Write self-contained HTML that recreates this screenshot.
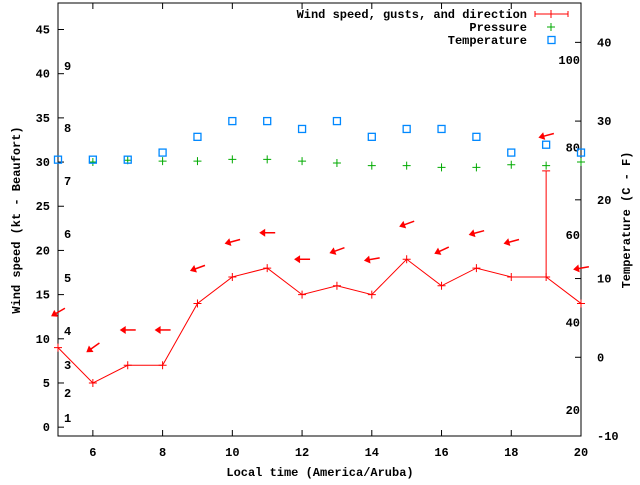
<!DOCTYPE html>
<html><head><meta charset="utf-8"><style>
body{margin:0;background:#fff}
svg text{font-family:"Liberation Mono","DejaVu Sans Mono",monospace;font-size:12px;font-weight:bold;fill:#000}
</style></head><body>
<svg id="c" width="640" height="480" xmlns="http://www.w3.org/2000/svg"></svg>
<script>
const hours=[5,6,7,8,9,10,11,12,13,14,15,16,17,18,19,20];
const wind=[9,5,7,7,14,17,18,15,16,15,19,16,18,17,17,14];
const gust=[null,null,null,null,null,null,null,null,null,null,null,null,null,null,29,null];
const dirDeg=[30,35,0,0,20,15,0,0,20,10,20,25,15,15,15,10];
const pressure=[null,30,30.2,30.1,30.1,30.3,30.3,30.1,29.9,29.6,29.6,29.4,29.4,29.7,29.6,30.0];
const tempC=[25.1,25.1,25.1,26,28,30,30,29,30,28,29,29,28,26,27,26];
const xTicks=[6,8,10,12,14,16,18,20];
const yTicks=[0,5,10,15,20,25,30,35,40,45];
const y2Ticks=[-10,0,10,20,30,40];
const fTicks=[20,40,60,80,100];
const bft=[[1,418],[2,393],[3,365],[4,331],[5,278],[6,234],[7,181],[8,128],[9,66]];
const L=58,R=581,T=3,B=436;
const X=v=>L+(v-5)*(R-L)/15;
const Y=v=>B-(v+1)*(B-T)/49;
const Y2=v=>B-(v+10)*(B-T)/55;
const svg=document.getElementById('c');const NS='http://www.w3.org/2000/svg';
function el(t,a,name,txt){const e=document.createElementNS(NS,t);for(const k in a)e.setAttribute(k,a[k]);


if(txt!==undefined)e.textContent=txt;svg.appendChild(e);return e;}
el('rect',{x:L,y:T,width:R-L,height:B-T,fill:'none',stroke:'#000','stroke-width':1},'plot-frame');
xTicks.forEach(v=>{const x=X(v);el('line',{x1:x,y1:B,x2:x,y2:B-6,stroke:'#000'},'x-tick');el('line',{x1:x,y1:T,x2:x,y2:T+6,stroke:'#000'},'x-tick-top');
el('text',{x:x,y:B+20,'text-anchor':'middle'},'x-tick-label',v);});
yTicks.forEach(v=>{const y=Y(v);el('line',{x1:L,y1:y,x2:L+6,y2:y,stroke:'#000'},'y-tick');
el('text',{x:L-8,y:y+4,'text-anchor':'end'},'y-tick-label',v);});
y2Ticks.forEach(v=>{const y=Y2(v);el('line',{x1:R,y1:y,x2:R-6,y2:y,stroke:'#000'},'y2-tick');
el('text',{x:R+16,y:y+4,'text-anchor':'start'},'y2-tick-label',v);});
fTicks.forEach(f=>{const y=Y2((f-32)*5/9);el('text',{x:R-1,y:y+4,'text-anchor':'end'},'fahrenheit-label',f);});
bft.forEach(b=>el('text',{x:64,y:b[1]+4},'beaufort-label',b[0]));
el('text',{x:320,y:476,'text-anchor':'middle'},'x-axis-title','Local time (America/Aruba)');
el('text',{x:0,y:0,'text-anchor':'middle',transform:'translate(20,220) rotate(-90)'},'y-axis-title','Wind speed (kt - Beaufort)');
el('text',{x:0,y:0,'text-anchor':'middle',transform:'translate(630,220) rotate(-90)'},'y2-axis-title','Temperature (C - F)');
// wind line
el('polyline',{points:hours.map((h,i)=>X(h)+','+Y(wind[i])).join(' '),fill:'none',stroke:'#f00'},'wind-line');
hours.forEach((h,i)=>{const x=X(h),y=Y(wind[i]);
el('path',{d:`M${x-4},${y}H${x+4}M${x},${y-4}V${y+4}`,stroke:'#f00'},'wind-point');
if(gust[i]!=null){const g=Y(gust[i]);el('path',{d:`M${x},${y}V${g}M${x-4},${g}H${x+4}`,stroke:'#f00'},'gust-bar');}
const top=gust[i]!=null?gust[i]:wind[i];const ay=Y(top+4);
const g=el('g',{transform:`translate(${x},${ay}) rotate(${-dirDeg[i]})`},'wind-direction-arrow');
const l=document.createElementNS(NS,'path');l.setAttribute('d','M-3,0H8');l.setAttribute('stroke','#f00');l.setAttribute('stroke-width','1.5');g.appendChild(l);
const p=document.createElementNS(NS,'path');p.setAttribute('d','M-8,0L-2,-4L-2,4Z');p.setAttribute('fill','#f00');g.appendChild(p);
});
hours.forEach((h,i)=>{if(pressure[i]==null)return;const x=X(h),y=Y(pressure[i]);
el('path',{d:`M${x-4},${y}H${x+4}M${x},${y-4}V${y+4}`,stroke:'#0a0'},'pressure-point');});
hours.forEach((h,i)=>{const x=X(h),y=Y2(tempC[i]);
el('rect',{x:x-3.5,y:y-3.5,width:7,height:7,fill:'none',stroke:'#08f','stroke-width':1.3},'temperature-point');});
// legend
el('text',{x:527,y:18,'text-anchor':'end'},'legend-label-wind','Wind speed, gusts, and direction');
el('path',{d:'M535,14H568M535,11V17M568,11V17M551,10V18',stroke:'#f00'},'legend-swatch-wind');
el('text',{x:527,y:31,'text-anchor':'end'},'legend-label-pressure','Pressure');
el('path',{d:'M547,27H555M551,23V31',stroke:'#0a0'},'legend-swatch-pressure');
el('text',{x:527,y:44,'text-anchor':'end'},'legend-label-temperature','Temperature');
el('rect',{x:548,y:36.5,width:7,height:7,fill:'none',stroke:'#08f','stroke-width':1.3},'legend-swatch-temperature');
</script>
</body></html>
